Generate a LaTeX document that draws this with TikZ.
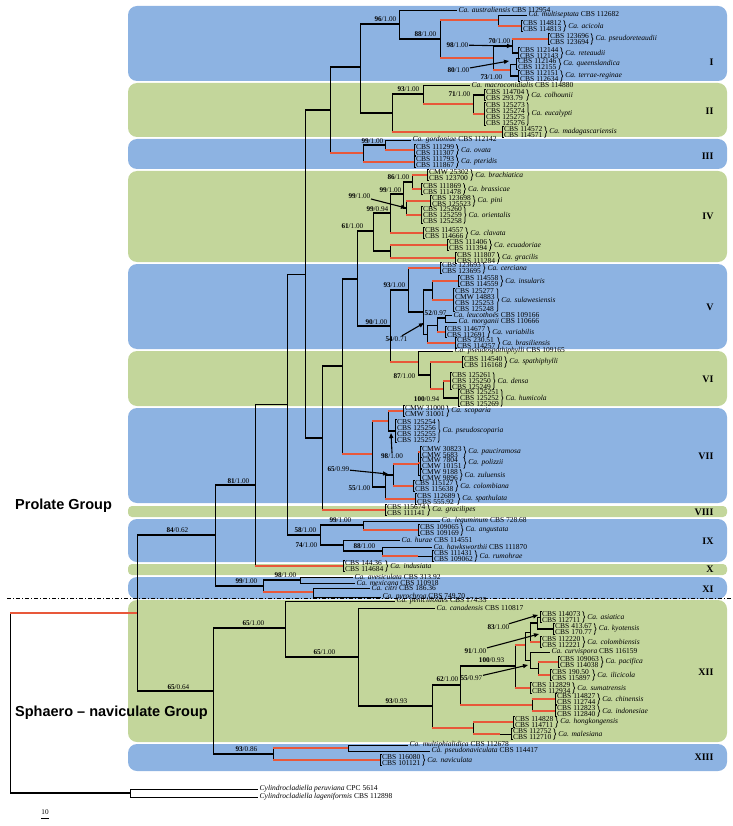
\documentclass[tikz,border=0pt]{standalone}
\usepackage{fontspec}
\setmainfont{Liberation Serif}
\newfontfamily\grpfont{Liberation Sans}
\usetikzlibrary{decorations.pathreplacing,arrows.meta}
\definecolor{bandblue}{RGB}{141,179,226}
\definecolor{bandgreen}{RGB}{195,214,155}
\definecolor{treered}{RGB}{232,88,58}
\newcommand{\tipfont}{\fontsize{7.5}{6.0}\selectfont\lineskiplimit=-4pt}
% elbow branch: thin vertical, styled horizontal
\newcommand{\edg}[3][br]{\draw[br] (#2) |- (#3); \draw[#1] (#2 |- #3) -- (#3);}
% strains in a bracket, brace, species name
\newcommand{\grp}[4]{%
  \node[grp] (#1) at (#2) {#3};
  \draw[br] ([xshift=2pt]#1.north west) -- (#1.north west) -- (#1.south west) -- ([xshift=2pt]#1.south west);
  \draw[br, decorate, decoration={brace, amplitude=2pt}] (#1.north east) -- (#1.south east);
  \node[tip] (#1s) at ([xshift=3pt]#1.east) {\textit{Ca. #4}};}

\begin{document}
\begin{tikzpicture}[x=1pt, y=-1pt,
  br/.style={line width=0.7pt},
  tk/.style={line width=2.4pt},
  rd/.style={line width=2.6pt, draw=treered},
  tip/.style={anchor=west, inner xsep=1.5pt, inner ysep=0pt, font=\tipfont},
  grp/.style={anchor=west, align=left, inner xsep=2pt, inner ysep=0pt, font=\tipfont},
  bsval/.style={inner sep=0.5pt, font=\fontsize{7.2}{8}\selectfont},
  arr/.style={line width=1.1pt, -{Triangle[length=5pt, width=4pt]}},
  roman/.style={anchor=east, font=\fontsize{10}{12}\selectfont\bfseries},
  grplab/.style={anchor=west, inner sep=0pt, font=\grpfont\bfseries\fontsize{14.5}{16}\selectfont}]

\useasboundingbox (0,0) rectangle (732,826);

% clade bands
\foreach \a/\b/\c in {6/81/bandblue, 83/137/bandgreen, 139/169/bandblue, 171/262/bandgreen,
  264/349/bandblue, 351/406/bandgreen, 408/503/bandblue, 519/562/bandblue, 577/599/bandblue,
  600/742/bandgreen, 744/771/bandblue}
  \fill[\c, rounded corners=9pt] (128,\a) rectangle (727,\b);
\fill[bandgreen, rounded corners=4pt] (128,506) rectangle (727,517);
\fill[bandgreen, rounded corners=4pt] (128,564) rectangle (727,575);
\foreach \t/\y in {I/62, II/111, III/156, IV/216, V/307, VI/379, VII/456, VIII/512,
  IX/541, X/569, XI/589, XII/672, XIII/757}
  \node[roman] at (717,\y) {\t};
\draw[line width=0.9pt, dash pattern=on 4pt off 2pt on 1pt off 2pt] (7,598) -- (732,598);

\node[grplab] (prol) at (15,506) {Prolate Group};
\node[grplab] (sphn) at (15,713) {Sphaero \textendash{} naviculate Group};

% internal nodes
\coordinate (root) at (10,703);
\coordinate (n137) at (137,613);
\coordinate (nout) at (130,793);
\coordinate (n215) at (215,535);
\coordinate (n213) at (213,691);
\coordinate (n255) at (255,485);
\coordinate (nXI) at (263,586);
\coordinate (n287) at (287,404);
\coordinate (n305) at (305,274);
\coordinate (n330) at (330,110);
\coordinate (nI) at (360,67);
\coordinate (n96) at (399,24);
\coordinate (n88) at (440,39);
\coordinate (nAc) at (498,20);
\coordinate (nRe) at (493,58);
\coordinate (n70) at (512,46);
\coordinate (n73) at (510,70);
\coordinate (n93) at (392,113);
\coordinate (nMac) at (423,94);
\coordinate (nCol) at (473,104);
\coordinate (n99c) at (363,153);
\coordinate (nPar) at (385,145);
\coordinate (n322) at (322,438);
\coordinate (n342) at (342,366);
\coordinate (n61) at (357,279);
\coordinate (n9994) at (373,231);
\coordinate (nIVa) at (390,213);
\coordinate (n99b) at (403,194);
\coordinate (n86) at (412,182);
\coordinate (nPin) at (406,208);
\coordinate (nEcu) at (390,251);
\coordinate (n90) at (390,326);
\coordinate (n93v) at (408,290);
\coordinate (n52) at (423,312);
\coordinate (nIns) at (432,290);
\coordinate (n54) at (427,334);
\coordinate (nLeu) at (437,325);
\coordinate (nLm) at (445,318);
\coordinate (n87) at (418,362);
\coordinate (nDen) at (430,375);
\coordinate (n100) at (443,389);
\coordinate (n98) at (372,454);
\coordinate (nSco) at (388,421);
\coordinate (n55) at (385,487);
\coordinate (n65) at (393,475);
\coordinate (nPau) at (418,464);
\coordinate (n58) at (320,535);
\coordinate (n99i) at (363,525);
\coordinate (n74) at (343,545);
\coordinate (n88i) at (382,551);
\coordinate (n98xi) at (300,580);
\coordinate (nCit) at (313,592);
\coordinate (n65a) at (285,628);
\coordinate (n358) at (358,657);
\coordinate (n93b) at (432,706);
\coordinate (n62) at (460,685);
\coordinate (n100x) at (515,666);
\coordinate (n525) at (525,645);
\coordinate (nAsi) at (530,632);
\coordinate (nAK) at (537,623);
\coordinate (nCur) at (530,660);
\coordinate (nPac) at (538,668);
\coordinate (nChi) at (532,705);
\coordinate (nHon) at (473,728);
\coordinate (n93x) at (273,754);
\coordinate (nMul) at (348,748);

% tips: clade I
\node[tip] (aus) at (457,10) {\textit{Ca. australiensis} CBS 112954};
\node[tip] (mlt) at (527,15) {\textit{Ca. multiseptata} CBS 112682};
\grp{aci}{521,26}{CBS 114812\\CBS 114813}{acicola}
\grp{psr}{548,39}{CBS 123696\\CBS 123694}{pseudoreteaudii}
\grp{ret}{518,53}{CBS 112144\\CBS 112143}{reteaudii}
\grp{que}{516,64}{CBS 112146\\CBS 112155}{queenslandica}
\grp{ter}{518,76}{CBS 112151\\CBS 112634}{terrae-reginae}
% clade II
\node[tip] (mac) at (470,85) {\textit{Ca. macroconidialis} CBS 114880};
\grp{col}{484,95}{CBS 114704\\CBS 293.79}{colhounii}
\grp{euc}{484,114}{CBS 125273\\CBS 125274\\CBS 125275\\CBS 125276}{eucalypti}
\grp{mad}{502,132}{CBS 114572\\CBS 114571}{madagascariensis}
% clade III
\node[tip] (gor) at (411,140) {\textit{Ca. gordoniae} CBS 112142};
\grp{ova}{414,150}{CBS 111299\\CBS 111307}{ovata}
\grp{pte}{414,162}{CBS 111793\\CBS 111867}{pteridis}
% clade IV
\grp{bra}{427,175}{CMW 25302\\CBS 123700}{brachiatica}
\grp{bss}{421,189}{CBS 111869\\CBS 111478}{brassicae}
\grp{pin}{430,201}{CBS 123698\\CBS 125523}{pini}
\grp{ori}{421,215}{CBS 125260\\CBS 125259\\CBS 125258}{orientalis}
\grp{cla}{423,233}{CBS 114557\\CBS 114666}{clavata}
\grp{ecu}{447,245}{CBS 111406\\CBS 111394}{ecuadoriae}
\grp{gra}{455,258}{CBS 111807\\CBS 111284}{gracilis}
% clade V
\grp{cer}{440,268}{CBS 123693\\CBS 123695}{cerciana}
\grp{ins}{458,281}{CBS 114558\\CBS 114559}{insularis}
\grp{sul}{453,300}{CBS 125277\\CMW 14883\\CBS 125253\\CBS 125248}{sulawesiensis}
\node[tip] (leu) at (452,315) {\textit{Ca. leucothoës} CBS 109166};
\node[tip] (mor) at (457,322) {\textit{Ca. morganii} CBS 110666};
\grp{var}{445,332}{CBS 114677\\CBS 112691}{variabilis}
\grp{bsl}{455,343}{CBS 230.51\\CBS 114257}{brasiliensis}
% clade VI
\node[tip] (pss) at (453,351) {\textit{Ca. pseudospathiphylli} CBS 109165};
\grp{spa}{462,362}{CBS 114540\\CBS 116168}{spathiphylli}
\grp{den}{450,381}{CBS 125261\\CBS 125250\\CBS 125249}{densa}
\grp{hum}{458,398}{CBS 125251\\CBS 125252\\CBS 125269}{humicola}
% clade VII
\grp{sco}{403,411}{CMW 31000\\CMW 31001}{scoparia}
\grp{psc}{395,431}{CBS 125254\\CBS 125256\\CBS 125255\\CBS 125257}{pseudoscoparia}
\grp{pau}{420,452}{CMW 30823\\CMW 5683}{pauciramosa}
\grp{pol}{420,463}{CMW 7804\\CMW 10151}{polizzii}
\grp{zul}{420,475}{CMW 9188\\CMW 9896}{zuluensis}
\grp{clm}{413,486}{CBS 115127\\CBS 115638}{colombiana}
\grp{spt}{415,499}{CBS 112689\\CBS 555.92}{spathulata}
% clade VIII
\grp{grp}{385,510}{CBS 115674\\CBS 111141}{gracilipes}
% clade IX
\node[tip] (leg) at (440,521) {\textit{Ca. leguminum} CBS 728.68};
\grp{ang}{418,530}{CBS 109065\\CBS 109169}{angustata}
\node[tip] (hur) at (400,540) {\textit{Ca. hurae} CBS 114551};
\node[tip] (haw) at (432,547) {\textit{Ca. hawksworthii} CBS 111870};
\grp{rum}{432,556}{CBS 111431\\CBS 109062}{rumohrae}
% clade X
\grp{ind}{343,566}{CBS 144.36\\CBS 114684}{indusiata}
% clade XI
\node[tip] (ave) at (353,577) {\textit{Ca. avesiculata} CBS 313.92};
\node[tip] (mex) at (355,583) {\textit{Ca. mexicana} CBS 110918};
\node[tip] (cit) at (370,588) {\textit{Ca. citri} CBS 186.36};
\node[tip] (pyr) at (381,597) {\textit{Ca. pyrochroa} CBS 749.70};
% clade XII
\node[tip] (pen) at (395,601) {\textit{Ca. penicilloides} CBS 174.55};
\node[tip] (can) at (435,608) {\textit{Ca. canadensis} CBS 110817};
\grp{asi}{540,617}{CBS 114073\\CBS 112711}{asiatica}
\grp{kyo}{553,629}{CBS 413.67\\CBS 170.77}{kyotensis}
\grp{clb}{540,642}{CBS 112220\\CBS 112221}{colombiensis}
\node[tip] (cur) at (550,652) {\textit{Ca. curvispora} CBS 116159};
\grp{pac}{558,662}{CBS 109063\\CBS 114038}{pacifica}
\grp{ili}{550,675}{CBS 190.50\\CBS 115897}{ilicicola}
\grp{sum}{530,688}{CBS 112829\\CBS 112934}{sumatrensis}
\grp{chi}{555,699}{CBS 114827\\CBS 112744}{chinensis}
\grp{idn}{555,711}{CBS 112823\\CBS 112840}{indonesiae}
\grp{hon}{513,722}{CBS 114828\\CBS 114711}{hongkongensis}
\grp{mal}{511,734}{CBS 112752\\CBS 112710}{malesiana}
% clade XIII
\node[tip] (mph) at (408,745) {\textit{Ca. multiphialidica} CBS 112678};
\node[tip] (pnv) at (430,751) {\textit{Ca. pseudonaviculata} CBS 114417};
\grp{nav}{380,760}{CBS 116080\\CBS 101121}{naviculata}
% outgroup
\node[tip] (per) at (258,789) {\textit{Cylindrocladiella peruviana} CPC 5614};
\node[tip] (lag) at (258,797) {\textit{Cylindrocladiella lageniformis} CBS 112898};

% branches
\edg[rd]{root}{n137} \edg[tk]{root}{nout}
\edg[tk]{n137}{n215} \edg[tk]{n137}{n213}
\edg[tk]{n215}{n255} \edg[tk]{n215}{nXI}
\edg{n255}{n287} \edg[rd]{n255}{ind.west}
\edg{n287}{n305} \edg[tk]{n287}{n58}
\edg[tk]{n305}{n330} \edg[tk]{n305}{n322}
\edg[tk]{n330}{nI} \edg[rd]{n330}{n99c}
\edg[tk]{nI}{n96} \edg[tk]{nI}{n93}
\edg{n96}{aus.west} \edg[tk]{n96}{n88}
\edg[rd]{n88}{nAc} \edg[rd]{n88}{nRe}
\edg{nAc}{mlt.west} \edg[rd]{nAc}{aci.west}
\edg[tk]{nRe}{n70} \edg[rd]{nRe}{n73}
\edg[rd]{n70}{psr.west} \edg[tk]{n70}{ret.west}
\edg{n73}{que.west} \edg[tk]{n73}{ter.west}
\edg[tk]{n93}{nMac} \edg[rd]{n93}{mad.west}
\edg{nMac}{mac.west} \edg[rd]{nMac}{nCol}
\edg[tk]{nCol}{col.west} \edg[rd]{nCol}{euc.west}
\edg[tk]{n99c}{nPar} \edg[rd]{n99c}{pte.west}
\edg{nPar}{gor.west} \edg[rd]{nPar}{ova.west}
\edg[tk]{n322}{n342} \edg[rd]{n322}{grp.west}
\edg[tk]{n342}{n61} \edg[rd]{n342}{n98}
\edg[tk]{n61}{n9994} \edg[tk]{n61}{n90}
\edg[tk]{n9994}{nIVa} \edg[tk]{n9994}{nEcu}
\edg[tk]{nIVa}{n99b} \edg[rd]{nIVa}{cla.west}
\edg[tk]{n99b}{n86} \edg[tk]{n99b}{nPin}
\edg[rd]{n86}{bra.west} \edg[rd]{n86}{bss.west}
\edg[rd]{nPin}{pin.west} \edg[rd]{nPin}{ori.west}
\edg[rd]{nEcu}{ecu.west} \edg[rd]{nEcu}{gra.west}
\edg[tk]{n90}{n93v} \edg[rd]{n90}{n87}
\edg[rd]{n93v}{cer.west} \edg[tk]{n93v}{n52}
\edg[tk]{n52}{nIns} \edg{n52}{n54}
\edg[rd]{nIns}{ins.west} \edg[rd]{nIns}{sul.west}
\edg{n54}{nLeu} \edg[rd]{n54}{bsl.west}
\edg[tk]{nLeu}{nLm} \edg[rd]{nLeu}{var.west}
\edg{nLm}{leu.west} \edg{nLm}{mor.west}
\edg{n87}{pss.west} \edg[tk]{n87}{nDen}
\edg[rd]{nDen}{spa.west} \edg[rd]{nDen}{n100}
\edg[rd]{n100}{den.west} \edg[tk]{n100}{hum.west}
\edg[rd]{n98}{nSco} \edg[tk]{n98}{n55}
\edg[rd]{nSco}{sco.west} \edg[tk]{nSco}{psc.west}
\edg[tk]{n55}{n65} \edg[rd]{n55}{spt.west}
\edg[rd]{n65}{nPau} \edg[rd]{n65}{clm.west}
\edg[rd]{nPau}{pau.west} \edg[rd]{nPau}{pol.west} \edg{nPau}{zul.west}
\edg[tk]{n58}{n99i} \edg[tk]{n58}{n74}
\edg{n99i}{leg.west} \edg[rd]{n99i}{ang.west}
\edg{n74}{hur.west} \edg[tk]{n74}{n88i}
\edg{n88i}{haw.west} \edg{n88i}{rum.west}
\draw[rd] (n88i |- rum.west) -- ++(36,0);
\edg[tk]{nXI}{n98xi} \edg[rd]{nXI}{nCit}
\edg{n98xi}{ave.west} \edg{n98xi}{mex.west}
\edg{nCit}{cit.west} \edg{nCit}{pyr.west}
\edg[tk]{n213}{n65a} \edg[tk]{n213}{n93x}
\edg{n65a}{pen.west} \edg[tk]{n65a}{n358}
\edg{n358}{can.west} \edg[tk]{n358}{n93b}
\edg[tk]{n93b}{n62} \edg[rd]{n93b}{nHon}
\edg[tk]{n62}{n100x} \edg[rd]{n62}{nChi}
\edg[rd]{n100x}{n525} \edg[rd]{n100x}{sum.west}
\edg{n525}{nAsi} \edg{n525}{nCur}
\edg[tk]{nAsi}{nAK} \edg[rd]{nAsi}{clb.west}
\edg{nAK}{asi.west} \edg[tk]{nAK}{kyo.west}
\edg{nCur}{cur.west} \edg{nCur}{nPac}
\edg[rd]{nPac}{pac.west} \edg[rd]{nPac}{ili.west}
\edg[rd]{nChi}{chi.west} \edg[rd]{nChi}{idn.west}
\edg[rd]{nHon}{hon.west} \edg{nHon}{mal.west}
\draw[rd] (nHon |- mal.west) -- ++(27,0);
\edg[rd]{n93x}{nMul} \edg[rd]{n93x}{nav.west}
\edg{nMul}{mph.west} \edg{nMul}{pnv.west}
\edg{nout}{per.west} \edg{nout}{lag.west}

% support values
\node[bsval, anchor=south east] (b96) at (397,22) {\textbf{96}/1.00};
\node[bsval, anchor=south east] (b88) at (437,37) {\textbf{88}/1.00};
\node[bsval, anchor=south east] (b70) at (511,44) {\textbf{70}/1.00};
\node[bsval, anchor=east] (b73) at (503,77) {\textbf{73}/1.00};
\node[bsval, anchor=east] (a98) at (469,45) {\textbf{98}/1.00};
\node[bsval, anchor=east] (a80) at (470,70) {\textbf{80}/1.00};
\coordinate (t80) at (509,61);
\draw[arr] (a98) -- (n70);
\draw[arr] (a80) -- (t80);
\node[bsval, anchor=south east] (b93) at (420,92) {\textbf{93}/1.00};
\node[bsval, anchor=east] (b71) at (471,94) {\textbf{71}/1.00};
\node[bsval, anchor=south east] (b99c) at (384,144) {\textbf{99}/1.00};
\node[bsval, anchor=south east] (b86) at (410,180) {\textbf{86}/1.00};
\node[bsval, anchor=south east] (b99b) at (402,193) {\textbf{99}/1.00};
\node[bsval, anchor=east] (a99) at (371,196) {\textbf{99}/1.00};
\draw[arr] (a99) -- (nPin);
\node[bsval, anchor=south east] (b9994) at (389,212) {\textbf{99}/0.94};
\node[bsval, anchor=south east] (b61) at (364,229) {\textbf{61}/1.00};
\node[bsval, anchor=south east] (b90) at (388,325) {\textbf{90}/1.00};
\node[bsval, anchor=south east] (b93v) at (406,288) {\textbf{93}/1.00};
\node[bsval, anchor=west] (b52) at (424,313) {\textbf{52}/0.97};
\node[bsval, anchor=east] (a54) at (408,339) {\textbf{54}/0.71};
\coordinate (t54) at (424,323);
\draw[arr] (a54) -- (t54);
\node[bsval, anchor=east] (b87) at (416,376) {\textbf{87}/1.00};
\node[bsval, anchor=east] (b100) at (440,399) {\textbf{100}/0.94};
\node[bsval] (a98b) at (392,456) {\textbf{98}/1.00};
\coordinate (t98) at (391,433);
\draw[arr] (a98b.north) -- (t98);
\node[bsval, anchor=east] (a65) at (350,469) {\textbf{65}/0.99};
\coordinate (t65) at (388,474);
\draw[arr] (a65) -- (t65);
\node[bsval, anchor=east] (b55) at (371,488) {\textbf{55}/1.00};
\node[bsval, anchor=south east] (b58) at (317,533) {\textbf{58}/1.00};
\node[bsval, anchor=south east] (b99i) at (352,523) {\textbf{99}/1.00};
\node[bsval, anchor=east] (b74) at (318,545) {\textbf{74}/1.00};
\node[bsval, anchor=south east] (b88i) at (376,549) {\textbf{88}/1.00};
\node[bsval, anchor=south east] (b81) at (250,484) {\textbf{81}/1.00};
\node[bsval, anchor=south east] (b84) at (189,533) {\textbf{84}/0.62};
\node[bsval, anchor=south east] (b99xi) at (258,584) {\textbf{99}/1.00};
\node[bsval, anchor=south east] (b98xi) at (297,578) {\textbf{98}/1.00};
\node[bsval, anchor=south east] (b65a) at (265,626) {\textbf{65}/1.00};
\node[bsval, anchor=south east] (b65b) at (336,655) {\textbf{65}/1.00};
\node[bsval, anchor=south east] (b93b) at (408,704) {\textbf{93}/0.93};
\node[bsval, anchor=south east] (b62) at (459,682) {\textbf{62}/1.00};
\node[bsval, anchor=south east] (b100x) at (505,663) {\textbf{100}/0.93};
\node[bsval, anchor=east] (a83) at (510,627) {\textbf{83}/1.00};
\coordinate (t83) at (538,615);
\draw[arr] (a83) -- (t83);
\node[bsval, anchor=east] (a91) at (487,651) {\textbf{91}/1.00};
\coordinate (t91) at (539,634);
\draw[arr] (a91) -- (t91);
\node[bsval, anchor=east] (a55) at (483,678) {\textbf{55}/0.97};
\coordinate (t55) at (528,665);
\draw[arr] (a55) -- (t55);
\node[bsval, anchor=south east] (b65c) at (190,690) {\textbf{65}/0.64};
\node[bsval, anchor=south east] (b93x) at (258,752) {\textbf{93}/0.86};

% scale
\node[bsval] (scl) at (45,812) {10};
\draw[br] (41,818) -- (49,818);
\end{tikzpicture}
\end{document}
